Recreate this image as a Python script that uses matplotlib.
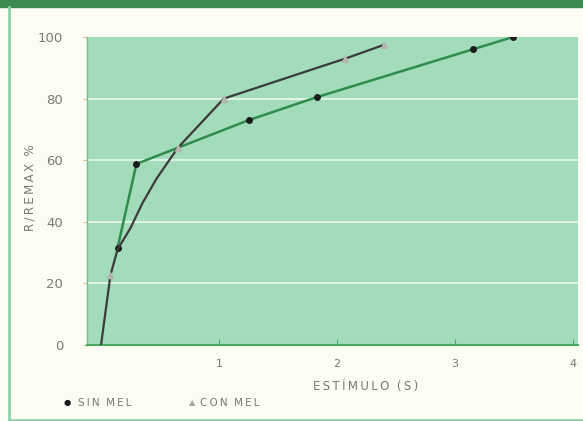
import matplotlib
matplotlib.use("Agg")
import matplotlib.pyplot as plt
from matplotlib.lines import Line2D
from matplotlib.patches import Rectangle

# Sin melatonina (green line, black dots)
SIN_X = [0.14, 0.30, 1.25, 1.83, 3.15, 3.49]
SIN_Y = [31.5, 58.8, 73.0, 80.5, 96.0, 100.0]

# Con melatonina (dark line, grey triangles)
CON_X = [0.0, 0.08, 0.14, 0.25, 0.35, 0.47, 0.65, 1.04, 1.83, 2.07, 2.40]
CON_Y = [0.0, 22.7, 31.0, 38.0, 46.0, 54.0, 64.0, 80.0, 90.0, 93.0, 97.5]
CON_MARKS = [1, 6, 7, 9, 10]

X_TICKS = [1, 2, 3, 4]
Y_TICKS = [0, 20, 40, 60, 80, 100]

COLOR_BG = "#fbfcf3"
COLOR_PLOT = "#a2dcbb"
COLOR_GREEN = "#2f8c4c"
COLOR_DARK = "#3c3a3a"
COLOR_TEXT = "#7a7a72"

TS = "\u2009"  # thin space, to widen the small-caps look


def spaced(s):
    return TS.join(s)


fig = plt.figure(figsize=(5.83, 4.21), dpi=100)
fig.patch.set_facecolor(COLOR_BG)

# Frame decorations (top band, left rule, bottom rule)
fig.patches.append(Rectangle((0, 0.983), 1, 0.017, transform=fig.transFigure,
                             color="#3b8a50", zorder=0))
fig.add_artist(Line2D([0.016, 0.016], [0.0, 0.983], transform=fig.transFigure,
                      color="#92d2a6", lw=2))
fig.add_artist(Line2D([0.016, 1.0], [0.003, 0.003], transform=fig.transFigure,
                      color="#92d2a6", lw=2))

ax = fig.add_axes([0.149, 0.1805, 0.842, 0.7315])
ax.set_facecolor(COLOR_PLOT)

# Horizontal white grid lines
for y in Y_TICKS[1:-1]:
    ax.axhline(y, color="#eef8f0", lw=1.2, zorder=1)

ax.plot(SIN_X, SIN_Y, color=COLOR_GREEN, lw=1.8, zorder=3,
        marker="o", markersize=4, markerfacecolor="#1b1b1b",
        markeredgecolor="#1b1b1b")
ax.plot(CON_X, CON_Y, color=COLOR_DARK, lw=1.6, zorder=4,
        marker="^", markevery=CON_MARKS, markersize=5,
        markerfacecolor="#b4b4b0", markeredgecolor="#b4b4b0")

ax.set_xlim(-0.12, 4.04)
ax.set_ylim(0, 100)
ax.set_xticks(X_TICKS)
ax.set_yticks(Y_TICKS)

for side in ["top", "right"]:
    ax.spines[side].set_visible(False)
ax.spines["bottom"].set_color("#4aa865")
ax.spines["bottom"].set_linewidth(1.5)
ax.spines["left"].set_color("#6cbf85")
ax.spines["left"].set_linewidth(1.0)

ax.tick_params(axis="x", direction="in", length=4, color="#4aa865",
               labelcolor=COLOR_TEXT, labelsize=8, pad=10)
ax.tick_params(axis="y", direction="out", length=3, color="#e8b890",
               labelcolor=COLOR_TEXT, labelsize=9.5, pad=14)

fig.text(0.627, 0.081, spaced("ESTÍMULO") + "  " + spaced("(S)"),
         color=COLOR_TEXT, fontsize=8.5, ha="center", va="center")
fig.text(0.052, 0.555, spaced("R/REMAX") + "  %", color=COLOR_TEXT,
         fontsize=8.5, ha="center", va="center", rotation=90)

# Legend at the bottom
fig.text(0.115, 0.043, "●", color="#1b1b1b", fontsize=6, ha="center", va="center")
fig.text(0.134, 0.043, spaced("SIN") + "  " + spaced("MEL"), color=COLOR_TEXT,
         fontsize=7.5, ha="left", va="center")
fig.text(0.330, 0.043, "▲", color="#a8a8a4", fontsize=6, ha="center", va="center")
fig.text(0.343, 0.043, spaced("CON") + "  " + spaced("MEL"), color=COLOR_TEXT,
         fontsize=7.5, ha="left", va="center")

fig.savefig("out.png", dpi=100, facecolor=fig.get_facecolor())
